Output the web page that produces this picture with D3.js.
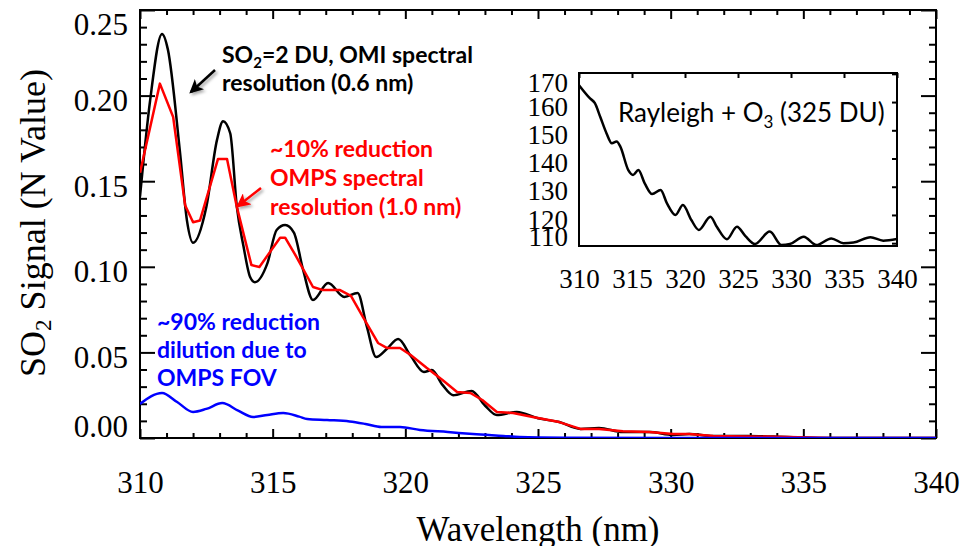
<!DOCTYPE html>
<html>
<head>
<meta charset="utf-8">
<script src="https://cdn.jsdelivr.net/npm/d3@7"></script>
<style>
  html, body { margin: 0; padding: 0; background: #fff; }
  svg { display: block; }
</style>
</head>
<body>
<svg id="chart" width="963" height="546"></svg>
<script>
// ---------------- DATA ----------------
// OMI spectral resolution (0.6 nm), SO2 = 2 DU  (black)
const omiWave  = [310.0,310.38,310.83,311.05,311.5,311.77,312.0,312.5,312.9,313.13,313.4,313.65,313.9,314.15,314.33,314.8,315.15,315.47,315.8,316.15,316.52,317.09,317.7,318.2,318.55,318.9,319.3,319.73,320.2,320.7,321.0,321.4,321.8,322.5,323.0,323.45,324.2,325.0,325.8,326.6,327.3,328.2,329.2,330.1,330.7,331.6,332.9,334.4,336.0,340.0];
const omiValue = [0.141,0.197,0.236,0.227,0.168,0.127,0.114,0.135,0.174,0.185,0.178,0.135,0.112,0.094,0.091,0.102,0.1215,0.1244,0.12,0.098,0.0806,0.0905,0.0824,0.0847,0.065,0.0473,0.052,0.0578,0.048,0.0386,0.0397,0.031,0.025,0.0275,0.019,0.0134,0.0152,0.0115,0.0093,0.0053,0.0058,0.0035,0.0035,0.0018,0.0023,0.0012,0.0012,0.0006,0.0,0.0];

// OMPS spectral resolution (1.0 nm)  (red)
const ompsWave  = [310.0,310.75,311.25,311.7,312.0,312.26,312.94,313.28,313.65,313.96,314.2,314.5,315.28,315.47,315.9,316.52,316.9,317.54,317.95,318.4,318.97,319.3,319.8,320.2,320.8,321.4,321.95,322.45,322.9,323.45,324.06,324.8,325.8,326.6,327.3,328.2,329.2,330.1,330.7,331.6,334.4,336.1,340.0];
const ompsValue = [0.155,0.207,0.1875,0.136,0.126,0.127,0.163,0.163,0.135,0.1157,0.101,0.0999,0.117,0.117,0.1057,0.0882,0.0864,0.0864,0.083,0.0707,0.0555,0.0526,0.0526,0.0485,0.041,0.0339,0.0269,0.0263,0.0222,0.0152,0.0146,0.0123,0.0093,0.0053,0.0053,0.004,0.0035,0.0023,0.0023,0.0012,0.0006,0.0,0.0];

// OMPS FOV dilution (blue)
const fovWave  = [310.0,310.83,311.4,312.0,312.5,313.1,313.7,314.26,314.8,315.4,316.0,316.3,317.05,317.9,318.5,319.1,319.8,320.55,321.6,322.55,323.7,324.3,326.0,330.0,340.0];
const fovValue = [0.0199,0.0263,0.021,0.0152,0.017,0.0204,0.016,0.0123,0.0135,0.0146,0.0125,0.0111,0.0105,0.0097,0.0082,0.0064,0.0064,0.0047,0.0035,0.0023,0.0012,0.0006,0.0002,0.0,0.0];

// Inset: Rayleigh + O3 (325 DU)
const insetWave  = [310,311.04,311.5,312.0,312.6,313.1,313.55,313.9,314.65,315.1,315.6,316.2,316.9,317.7,318.3,319.1,319.8,320.6,321.3,322.4,323.0,323.95,324.9,325.7,326.6,328.0,329.1,329.9,331.2,332.4,333.8,334.95,335.9,337.5,338.7,340];
const insetValue = [166.0,161.3,159.6,154.8,148.9,145.4,146.0,144.2,135.9,134.2,135.9,131.2,127.4,128.8,124.1,120.0,123.5,118.2,114.7,119.4,115.8,111.4,115.8,112.5,109.7,114.1,109.35,109.7,112.3,109.35,111.7,110.0,110.2,112.1,110.9,111.5];

// Tick labels
const xTicks = [310, 315, 320, 325, 330, 335, 340];
const yTicks = [0.00, 0.05, 0.10, 0.15, 0.20, 0.25];
const insetXTicks = [310, 315, 320, 325, 330, 335, 340];
const insetYTicks = [110, 120, 130, 140, 150, 160, 170];

// ---------------- LAYOUT ----------------
const svg = d3.select("#chart");
const M = {left: 140, right: 936, top: 10, bottom: 438};
const I = {left: 579, right: 897, top: 73, bottom: 246};
const serif = "'Liberation Serif', 'Times New Roman', serif";
const sans = "Lato, 'Open Sans', sans-serif";

const x = d3.scaleLinear().domain([310, 340]).range([M.left, M.right]);
const y = d3.scaleLinear().domain([0, 0.25]).range([M.bottom, M.top]);
const ix = d3.scaleLinear().domain([310, 340]).range([I.left, I.right]);
const iy = d3.scaleLinear().domain([109, 170.3]).range([I.bottom, I.top]);

const defs = svg.append("defs");
defs.append("clipPath").attr("id", "mainClip").append("rect")
  .attr("x", M.left).attr("y", M.top - 2).attr("width", M.right - M.left).attr("height", M.bottom - M.top + 2);
defs.append("clipPath").attr("id", "insetClip").append("rect")
  .attr("x", I.left).attr("y", I.top).attr("width", I.right - I.left).attr("height", I.bottom - I.top);
const shadow = defs.append("filter").attr("id", "shadow").attr("x", "-50%").attr("y", "-50%").attr("width", "200%").attr("height", "200%");
shadow.append("feDropShadow").attr("dx", 2).attr("dy", 2).attr("stdDeviation", 1.5)
  .attr("flood-color", "#000").attr("flood-opacity", 0.35);
function marker(id, color) {
  defs.append("marker").attr("id", id).attr("markerUnits", "userSpaceOnUse")
    .attr("viewBox", "0 0 12 12").attr("refX", 10).attr("refY", 6)
    .attr("markerWidth", 14).attr("markerHeight", 14).attr("orient", "auto")
    .append("path").attr("d", "M0,0 L12,6 L0,12 L3,6 Z").attr("fill", color);
}
marker("arrBlack", "#000");
marker("arrRed", "#ff0000");

// ---------------- MAIN AXES ----------------
const minorX = d3.range(310, 341, 1).filter(v => v % 5 !== 0);
const minorY = d3.range(0, 26, 1).map(v => v / 100).filter((v, i) => i % 5 !== 0);

function styleAxis(g) {
  g.select(".domain").remove();
  g.attr("font-family", null).attr("font-size", null);
  g.selectAll(".tick line").attr("stroke", "#000").attr("stroke-width", 2);
}
function serifText(size) {
  return g => g.selectAll("text")
    .attr("font-family", serif).style("font-family", serif)
    .style("font-size", size + "px").attr("fill", "#000");
}

// bottom
svg.append("g").attr("transform", `translate(0,${M.bottom})`)
  .call(d3.axisBottom(x).tickValues(xTicks).tickSize(-9).tickPadding(33).tickFormat(d3.format("d")))
  .call(styleAxis)
  .call(serifText(31));
svg.append("g").attr("transform", `translate(0,${M.bottom})`)
  .call(d3.axisBottom(x).tickValues(minorX).tickSize(-5).tickFormat(""))
  .call(styleAxis);
// top
svg.append("g").attr("transform", `translate(0,${M.top})`)
  .call(d3.axisTop(x).tickValues(xTicks).tickSize(-9).tickFormat(""))
  .call(styleAxis);
svg.append("g").attr("transform", `translate(0,${M.top})`)
  .call(d3.axisTop(x).tickValues(minorX).tickSize(-5).tickFormat(""))
  .call(styleAxis);
// left
const clampY = (v) => Math.max(M.top + 15, Math.min(M.bottom - 11, y(v) + 5));
svg.append("g").attr("transform", `translate(${M.left},0)`)
  .call(d3.axisLeft(y).tickValues(yTicks).tickSize(-15).tickPadding(12).tickFormat(d3.format(".2f")))
  .call(styleAxis)
  .call(serifText(31))
  .call(g => g.selectAll("text").attr("y", d => clampY(d) - y(d)));
svg.append("g").attr("transform", `translate(${M.left},0)`)
  .call(d3.axisLeft(y).tickValues(minorY).tickSize(-7).tickFormat(""))
  .call(styleAxis);
// right
svg.append("g").attr("transform", `translate(${M.right},0)`)
  .call(d3.axisRight(y).tickValues(yTicks).tickSize(-15).tickFormat(""))
  .call(styleAxis);
svg.append("g").attr("transform", `translate(${M.right},0)`)
  .call(d3.axisRight(y).tickValues(minorY).tickSize(-7).tickFormat(""))
  .call(styleAxis);

// frame
svg.append("rect").attr("x", M.left).attr("y", M.top).attr("width", M.right - M.left).attr("height", M.bottom - M.top)
  .attr("fill", "none").attr("stroke", "#000").attr("stroke-width", 2);

// axis titles
svg.append("text").attr("x", (M.left + M.right) / 2).attr("y", 541).attr("text-anchor", "middle")
  .style("font-family", serif).style("font-size", "35px").attr("fill", "#000").text("Wavelength (nm)");
const yt = svg.append("text").attr("transform", "translate(45,223) rotate(-90)").attr("text-anchor", "middle")
  .style("font-family", serif).style("font-size", "36px").attr("fill", "#000");
yt.append("tspan").text("SO");
yt.append("tspan").style("font-size", "23px").attr("dy", 6).text("2");
yt.append("tspan").attr("dy", -6).text(" Signal (N Value)");

// ---------------- MAIN LINES ----------------
const plot = svg.append("g").attr("clip-path", "url(#mainClip)");
function series(w, v) { return w.map((d, i) => [d, v[i]]); }
const lineMono = d3.line().x(d => x(d[0])).y(d => y(d[1])).curve(d3.curveMonotoneX);
const lineLin = d3.line().x(d => x(d[0])).y(d => y(d[1])).curve(d3.curveLinear);

plot.append("path").datum(series(omiWave, omiValue)).attr("d", lineMono)
  .attr("fill", "none").attr("stroke", "#000").attr("stroke-width", 2.5).attr("stroke-linejoin", "round");
plot.append("path").datum(series(ompsWave, ompsValue)).attr("d", lineLin)
  .attr("fill", "none").attr("stroke", "#ff0000").attr("stroke-width", 2.5).attr("stroke-linejoin", "round");
plot.append("path").datum(series(fovWave, fovValue)).attr("d", lineMono)
  .attr("fill", "none").attr("stroke", "#0000ff").attr("stroke-width", 2.5).attr("stroke-linejoin", "round");

// ---------------- ANNOTATIONS ----------------
function multiline(lines, x0, ys, color) {
  lines.forEach((parts, i) => {
    const t = svg.append("text").attr("x", x0).attr("y", ys[i]).style("font-family", sans)
      .style("font-weight", "bold").style("font-size", "23px").attr("fill", color);
    parts.forEach(p => {
      if (p.sub) t.append("tspan").style("font-size", "15px").attr("dy", 5).text(p.sub);
      else t.append("tspan").attr("dy", p.after ? -5 : 0).text(p.t);
    });
  });
}
multiline([[{t: "SO"}, {sub: "2"}, {t: "=2 DU, OMI spectral", after: true}], [{t: "resolution (0.6 nm)"}]],
  222, [63, 91], "#000");
multiline([[{t: "~10% reduction"}], [{t: "OMPS spectral"}], [{t: "resolution (1.0 nm)"}]],
  270, [157, 186, 215], "#ff0000");
multiline([[{t: "~90% reduction"}], [{t: "dilution due to"}], [{t: "OMPS FOV"}]],
  157, [330, 358, 386], "#0000ff");

svg.append("line").attr("x1", 215).attr("y1", 70).attr("x2", 191).attr("y2", 92)
  .attr("stroke", "#000").attr("stroke-width", 2.5).attr("marker-end", "url(#arrBlack)").attr("filter", "url(#shadow)");
svg.append("line").attr("x1", 261).attr("y1", 188).attr("x2", 238).attr("y2", 206)
  .attr("stroke", "#ff0000").attr("stroke-width", 2.5).attr("marker-end", "url(#arrRed)").attr("filter", "url(#shadow)");

// ---------------- INSET ----------------
const inset = svg.append("g");
inset.append("rect").attr("x", I.left).attr("y", I.top).attr("width", I.right - I.left).attr("height", I.bottom - I.top)
  .attr("fill", "#fff").attr("stroke", "none");
inset.append("g").attr("clip-path", "url(#insetClip)").append("path")
  .datum(series(insetWave, insetValue))
  .attr("d", d3.line().x(d => ix(d[0])).y(d => iy(d[1])).curve(d3.curveMonotoneX))
  .attr("fill", "none").attr("stroke", "#000").attr("stroke-width", 2.5);
inset.append("g").attr("transform", `translate(0,${I.bottom})`)
  .call(d3.axisBottom(ix).tickValues(insetXTicks).tickSize(0).tickPadding(23).tickFormat(d3.format("d")))
  .call(styleAxis)
  .call(serifText(27));
inset.append("g").attr("transform", `translate(0,${I.top})`)
  .call(d3.axisTop(ix).tickValues(insetXTicks).tickSize(-5).tickFormat(""))
  .call(styleAxis);
const clampIY = (v) => Math.max(I.top + 10, Math.min(I.bottom - 9, iy(v) + 4.5));
inset.append("g").attr("transform", `translate(${I.left},0)`)
  .call(d3.axisLeft(iy).tickValues(insetYTicks).tickSize(0).tickPadding(11).tickFormat(d3.format("d")))
  .call(styleAxis)
  .call(serifText(27))
  .call(g => g.selectAll("text").attr("y", d => clampIY(d) - iy(d)));
inset.append("g").attr("transform", `translate(${I.right},0)`)
  .call(d3.axisRight(iy).tickValues(insetYTicks).tickSize(-5).tickFormat(""))
  .call(styleAxis);
inset.append("rect").attr("x", I.left).attr("y", I.top).attr("width", I.right - I.left).attr("height", I.bottom - I.top)
  .attr("fill", "none").attr("stroke", "#000").attr("stroke-width", 2);
const it = inset.append("text").attr("x", 618).attr("y", 122).style("font-family", sans)
  .style("font-size", "26px").attr("fill", "#000");
it.append("tspan").text("Rayleigh + O");
it.append("tspan").style("font-size", "17px").attr("dy", 6).text("3");
it.append("tspan").attr("dy", -6).text(" (325 DU)");
</script>
</body>
</html>
